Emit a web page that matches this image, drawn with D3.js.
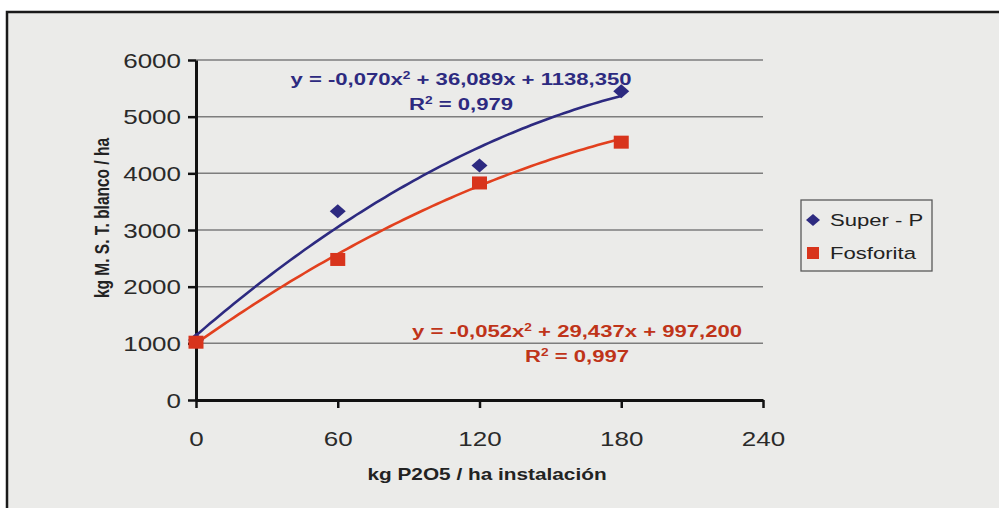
<!DOCTYPE html>
<html>
<head>
<meta charset="utf-8">
<script src="https://cdn.jsdelivr.net/npm/d3@7"></script>
<style>
  html, body { margin: 0; padding: 0; background: #ffffff; }
  svg { display: block; }
  text { font-family: "Liberation Sans", Arial, sans-serif; }
</style>
</head>
<body>
<svg id="chart" width="999" height="508"></svg>
<script>
// ---- data ----
const xTicks = [0, 60, 120, 180, 240];
const yTicks = [0, 1000, 2000, 3000, 4000, 5000, 6000];
const doses = [0, 60, 120, 180];
const superP = [1060, 3330, 4140, 5450];
const fosforita = [1020, 2480, 3830, 4550];
const superCoef = [-0.070, 36.089, 1138.350];
const fosfCoef = [-0.052, 29.437, 997.200];
const seriesNames = ["Super - P", "Fosforita"];
const superEq = ["y = -0,070x", "2", " + 36,089x + 1138,350"];
const superR2 = "0,979";
const fosfEq = ["y = -0,052x", "2", " + 29,437x + 997,200"];
const fosfR2 = "0,997";
const xTitle = "kg P2O5 / ha instalación";
const yTitle = "kg M. S. T. blanco / ha";

// ---- layout ----
const SX = 1.3; // horizontal stretch of the original picture's text
const blue = "#2d2a80", red = "#d8341c", redLine = "#e2401e", redText = "#bf3419";
const svg = d3.select("#chart");

svg.append("rect").attr("x", 7).attr("y", 12).attr("width", 1010).attr("height", 520)
  .attr("fill", "#ebebe9").attr("stroke", "#1a1a1a").attr("stroke-width", 2.5);

const x = d3.scaleLinear().domain([0, 240]).range([196, 763]);
const y = d3.scaleLinear().domain([0, 6000]).range([400, 60]);

// gridlines
svg.append("g").selectAll("line").data(yTicks.filter(d => d > 0)).join("line")
  .attr("x1", x(0)).attr("x2", x(240))
  .attr("y1", d => y(d)).attr("y2", d => y(d))
  .attr("stroke", "#7d7d7d").attr("stroke-width", 1.5);

// axes
const yAxis = svg.append("g").attr("transform", `translate(${x(0)},0)`)
  .call(d3.axisLeft(y).tickValues(yTicks).tickSize(8).tickSizeOuter(0).tickFormat(d3.format("d")));
const xAxis = svg.append("g").attr("transform", `translate(0,${y(0)})`)
  .call(d3.axisBottom(x).tickValues(xTicks).tickSize(8).tickSizeOuter(0).tickFormat(d3.format("d")));
[yAxis, xAxis].forEach(a => {
  a.select(".domain").attr("stroke", "#111").attr("stroke-width", 3);
  a.selectAll(".tick line").attr("stroke", "#111").attr("stroke-width", 2.5);
  a.selectAll(".tick text").attr("fill", "#2a2a2a").attr("font-size", 20)
    .attr("font-family", "Liberation Sans, Arial, sans-serif");
});
yAxis.selectAll(".tick text").attr("x", -15 / SX).attr("dy", "0.35em")
  .attr("transform", `scale(${SX},1)`);
xAxis.selectAll(".tick text").attr("y", 46).attr("dy", 0)
  .attr("transform", `scale(${SX},1)`);

// trend lines
function trend(c) {
  return d3.range(0, 180.01, 2).map(v => [v, c[0] * v * v + c[1] * v + c[2]]);
}
const line = d3.line().x(d => x(d[0])).y(d => y(d[1])).curve(d3.curveMonotoneX);
svg.append("path").datum(trend(superCoef)).attr("d", line)
  .attr("fill", "none").attr("stroke", blue).attr("stroke-width", 2.6);
svg.append("path").datum(trend(fosfCoef)).attr("d", line)
  .attr("fill", "none").attr("stroke", redLine).attr("stroke-width", 2.6);

// markers
const diamond = "M0,-7L8,0L0,7L-8,0Z";
svg.append("g").selectAll("path").data(doses).join("path")
  .attr("d", diamond)
  .attr("transform", (d, i) => `translate(${x(d)},${y(superP[i])})`)
  .attr("fill", blue);
svg.append("g").selectAll("rect").data(doses).join("rect")
  .attr("x", d => x(d) - 7.5).attr("y", (d, i) => y(fosforita[i]) - 6.5)
  .attr("width", 15).attr("height", 13).attr("fill", red);

// stretched text helper
function stext(px, py, size, weight, fill, anchor, parts) {
  const g = svg.append("g").attr("transform", `translate(${px},${py}) scale(${SX},1)`);
  const t = g.append("text").attr("font-size", size).attr("font-weight", weight)
    .attr("fill", fill).attr("text-anchor", anchor);
  parts.forEach(p => {
    const ts = t.append("tspan").text(p.t);
    if (p.sup) ts.attr("font-size", size * 0.62).attr("dy", -size * 0.38);
    if (p.down) ts.attr("dy", size * 0.38);
  });
  return t;
}

// equations
stext(461, 85, 17, "bold", blue, "middle",
  [{t: superEq[0]}, {t: superEq[1], sup: true}, {t: superEq[2], down: true}]);
stext(461, 110, 17, "bold", blue, "middle",
  [{t: "R"}, {t: "2", sup: true}, {t: " = " + superR2, down: true}]);
stext(577, 337, 17, "bold", redText, "middle",
  [{t: fosfEq[0]}, {t: fosfEq[1], sup: true}, {t: fosfEq[2], down: true}]);
stext(577, 362, 17, "bold", redText, "middle",
  [{t: "R"}, {t: "2", sup: true}, {t: " = " + fosfR2, down: true}]);

// axis titles
stext(487, 480, 16, "bold", "#222", "middle", [{t: xTitle}]);
svg.append("text").attr("transform", `translate(109,218) scale(${SX},1) rotate(-90)`)
  .attr("text-anchor", "middle").attr("font-size", 15.5).attr("font-weight", "bold")
  .attr("fill", "#222").text(yTitle);

// legend
svg.append("rect").attr("x", 801).attr("y", 200).attr("width", 131).attr("height", 71)
  .attr("fill", "none").attr("stroke", "#5a5a5a").attr("stroke-width", 1.3);
svg.append("path").attr("d", "M0,-6L7,0L0,6L-7,0Z").attr("transform", "translate(813,220)").attr("fill", blue);
svg.append("rect").attr("x", 807).attr("y", 247).attr("width", 12).attr("height", 12).attr("fill", red);
stext(830, 226, 17, "normal", "#222", "start", [{t: seriesNames[0]}]);
stext(830, 259, 17, "normal", "#222", "start", [{t: seriesNames[1]}]);
</script>
</body>
</html>
